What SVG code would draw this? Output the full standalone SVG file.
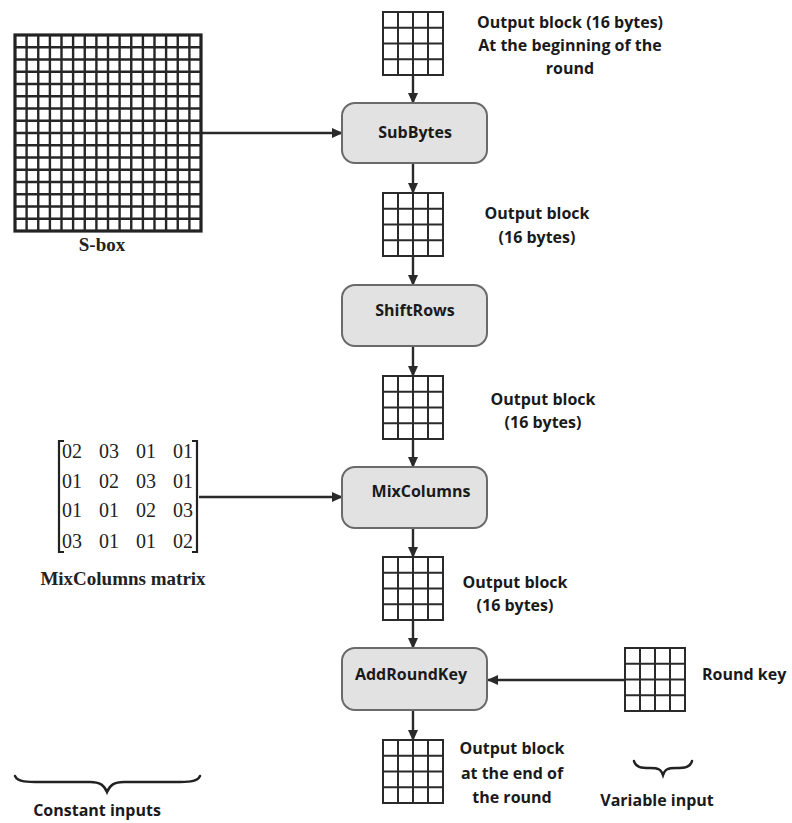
<svg xmlns="http://www.w3.org/2000/svg" xmlns:xlink="http://www.w3.org/1999/xlink" width="792" height="823" viewBox="0 0 792 823">
  <style>
    .lbl { font-family: "Open Sans", "Noto Sans", "DejaVu Sans", sans-serif; font-weight: bold; font-size: 16px; fill: #1a1a1a; text-anchor: middle; }
    .start { text-anchor: start; }
    .step { fill: #e2e2e2; stroke: #6a6a6a; stroke-width: 2; }
    .steptxt { font-family: "Open Sans", "Noto Sans", "DejaVu Sans", sans-serif; font-weight: bold; font-size: 16px; fill: #1a1a1a; text-anchor: middle; }
    .serif { font-family: "Liberation Serif", "Times New Roman", serif; fill: #222; }
    .wire { stroke: #2a2a2a; stroke-width: 2.4; fill: none; }
    .grid { stroke: #2a2a2a; stroke-width: 2; fill: #fff; }
    .brace { stroke: #222; stroke-width: 2.5; fill: none; stroke-linecap: round; }
  </style>
  <defs>
    <marker id="head" markerWidth="11" markerHeight="10" refX="10" refY="5" orient="auto" markerUnits="userSpaceOnUse">
      <path d="M0,0 L11,5 L0,10 z" fill="#2a2a2a"/>
    </marker>
    <!-- 4x4 state block -->
    <g id="block">
      <rect x="0" y="0" width="60" height="63" class="grid"/>
      <path d="M15,0V63M30,0V63M45,0V63M0,15.75H60M0,31.5H60M0,47.25H60" class="grid"/>
    </g>
  </defs>

  <rect width="792" height="823" fill="#fff"/>

  <!-- connectors -->
  <g id="connectors">
    <line x1="413" y1="75" x2="413" y2="103" class="wire" marker-end="url(#head)"/>
    <line x1="413" y1="163" x2="413" y2="193" class="wire" marker-end="url(#head)"/>
    <line x1="413" y1="256" x2="413" y2="285" class="wire" marker-end="url(#head)"/>
    <line x1="413" y1="346" x2="413" y2="376" class="wire" marker-end="url(#head)"/>
    <line x1="413" y1="439" x2="413" y2="467" class="wire" marker-end="url(#head)"/>
    <line x1="413" y1="528" x2="413" y2="557" class="wire" marker-end="url(#head)"/>
    <line x1="413" y1="620" x2="413" y2="648" class="wire" marker-end="url(#head)"/>
    <line x1="413" y1="710" x2="413" y2="740" class="wire" marker-end="url(#head)"/>
    <line x1="202" y1="133" x2="342" y2="133" class="wire" stroke-width="3" marker-end="url(#head)"/>
    <line x1="199" y1="497" x2="342" y2="497" class="wire" marker-end="url(#head)"/>
    <line x1="625" y1="680" x2="488" y2="680" class="wire" marker-end="url(#head)"/>
  </g>

  <!-- S-box table -->
  <g id="sbox">
    <rect x="15" y="35" width="186" height="196" fill="#fff" stroke="#222" stroke-width="3.2"/>
    <path stroke="#262626" stroke-width="2.4" fill="none" d="
      M26.6,35V231M38.25,35V231M49.9,35V231M61.5,35V231M73.1,35V231M84.75,35V231M96.4,35V231M108,35V231
      M119.6,35V231M131.25,35V231M142.9,35V231M154.5,35V231M166.1,35V231M177.75,35V231M189.4,35V231
      M15,47.25H201M15,59.5H201M15,71.75H201M15,84H201M15,96.25H201M15,108.5H201M15,120.75H201M15,133H201
      M15,145.25H201M15,157.5H201M15,169.75H201M15,182H201M15,194.25H201M15,206.5H201M15,218.75H201"/>
    <text x="102" y="251" class="serif" font-size="19" font-weight="bold" text-anchor="middle">S-box</text>
  </g>

  <!-- MixColumns constant matrix -->
  <g id="mixmatrix" class="serif" font-size="20">
    <path d="M64,441H59V552H64" fill="none" stroke="#222" stroke-width="2.2"/>
    <path d="M192,441H197V552H192" fill="none" stroke="#222" stroke-width="2.2"/>
    <text x="62" y="458">02</text><text x="99" y="458">03</text><text x="136" y="458">01</text><text x="173" y="458">01</text>
    <text x="62" y="488">01</text><text x="99" y="488">02</text><text x="136" y="488">03</text><text x="173" y="488">01</text>
    <text x="62" y="517">01</text><text x="99" y="517">01</text><text x="136" y="517">02</text><text x="173" y="517">03</text>
    <text x="62" y="548">03</text><text x="99" y="548">01</text><text x="136" y="548">01</text><text x="173" y="548">02</text>
    <text x="123" y="585" font-size="19" font-weight="bold" text-anchor="middle">MixColumns matrix</text>
  </g>

  <!-- state blocks -->
  <g id="state0"><use xlink:href="#block" x="383" y="12"/>
    <text class="lbl" x="570" y="28">Output block (16 bytes)</text>
    <text class="lbl" x="570" y="51">At the beginning of the</text>
    <text class="lbl" x="570" y="74">round</text>
  </g>
  <g id="state1"><use xlink:href="#block" x="383" y="193"/>
    <text class="lbl" x="537" y="219">Output block</text>
    <text class="lbl" x="537" y="243">(16 bytes)</text>
  </g>
  <g id="state2"><use xlink:href="#block" x="383" y="376"/>
    <text class="lbl" x="543" y="405">Output block</text>
    <text class="lbl" x="543" y="428">(16 bytes)</text>
  </g>
  <g id="state3"><use xlink:href="#block" x="383" y="557"/>
    <text class="lbl" x="515" y="588">Output block</text>
    <text class="lbl" x="515" y="611">(16 bytes)</text>
  </g>
  <g id="state4"><use xlink:href="#block" x="383" y="740"/>
    <text class="lbl" x="512" y="754">Output block</text>
    <text class="lbl" x="512" y="779">at the end of</text>
    <text class="lbl" x="512" y="803">the round</text>
  </g>
  <g id="roundkey"><use xlink:href="#block" x="625" y="648"/>
    <text class="lbl start" x="702" y="680">Round key</text>
  </g>

  <!-- round steps -->
  <g id="subbytes">
    <rect x="342" y="103" width="145" height="60" rx="13" class="step"/>
    <text class="steptxt" x="415" y="138">SubBytes</text>
  </g>
  <g id="shiftrows">
    <rect x="342" y="285" width="145" height="61" rx="13" class="step"/>
    <text class="steptxt" x="415" y="316">ShiftRows</text>
  </g>
  <g id="mixcolumns">
    <rect x="342" y="467" width="145" height="61" rx="13" class="step"/>
    <text class="steptxt" x="421" y="497">MixColumns</text>
  </g>
  <g id="addroundkey">
    <rect x="342" y="648" width="145" height="62" rx="13" class="step"/>
    <text class="steptxt" x="411" y="680">AddRoundKey</text>
  </g>

  <!-- input groupings -->
  <g id="constant-inputs">
    <path class="brace" d="M15,776 C18,783 30,782 50,782 L90,782 C100,782 104,785 107,792 C110,785 114,782 124,782 L165,782 C185,782 197,783 200,776"/>
    <text class="lbl" x="97" y="816">Constant inputs</text>
  </g>
  <g id="variable-input">
    <path class="brace" stroke-width="2" d="M634,761 C636,768 642,768 650,768 C658,768 661,769 663,775 C665,769 668,768 676,768 C684,768 690,768 692,761"/>
    <text class="lbl" x="657" y="806">Variable input</text>
  </g>
</svg>
